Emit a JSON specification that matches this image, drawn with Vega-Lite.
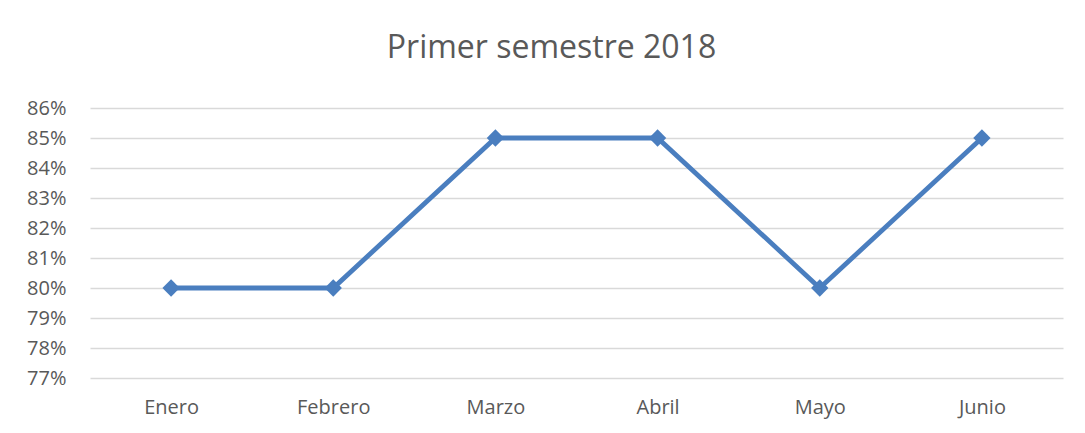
{
  "$schema": "https://vega.github.io/schema/vega-lite/v6.json",
  "width": 973,
  "height": 270,
  "autosize": {"type": "none"},
  "padding": {"left": 90, "top": 108, "right": 22, "bottom": 55},
  "background": "white",
  "title": {
    "text": "Primer semestre 2018",
    "anchor": "middle",
    "dx": -25,
    "offset": 33,
    "fontSize": 32,
    "font": "Open Sans",
    "fontWeight": "normal",
    "color": "#595959"
  },
  "data": {
    "values": [
      {"mes": "Enero", "valor": 0.80},
      {"mes": "Febrero", "valor": 0.80},
      {"mes": "Marzo", "valor": 0.85},
      {"mes": "Abril", "valor": 0.85},
      {"mes": "Mayo", "valor": 0.80},
      {"mes": "Junio", "valor": 0.85}
    ]
  },
  "config": {
    "view": {"stroke": null},
    "axis": {
      "labelFont": "Open Sans",
      "labelFontSize": 20,
      "labelColor": "#595959",
      "domain": false,
      "ticks": false,
      "title": null
    }
  },
  "encoding": {
    "x": {
      "field": "mes",
      "type": "nominal",
      "sort": null,
      "scale": {"type": "point", "padding": 0.5},
      "axis": {"labelAngle": 0, "labelPadding": 19, "grid": false}
    },
    "y": {
      "field": "valor",
      "type": "quantitative",
      "scale": {"domain": [0.77, 0.86], "nice": false, "zero": false},
      "axis": {
        "values": [0.77, 0.78, 0.79, 0.80, 0.81, 0.82, 0.83, 0.84, 0.85, 0.86],
        "format": ".0%",
        "labelPadding": 24,
        "grid": true,
        "gridColor": "#d9d9d9",
        "gridWidth": 1.3
      }
    }
  },
  "layer": [
    {"mark": {"type": "line", "color": "#4A7EBF", "strokeWidth": 4.8}},
    {"mark": {"type": "point", "shape": "diamond", "filled": true, "color": "#4A7EBF", "opacity": 1, "size": 300}}
  ]
}
